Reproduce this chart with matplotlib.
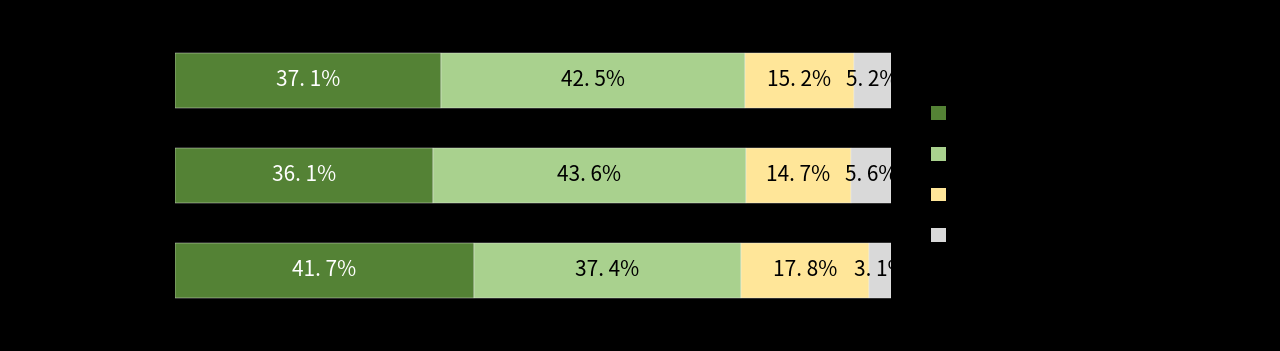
import matplotlib.pyplot as plt
from matplotlib.patches import Patch

plt.rcParams['font.family'] = ['Noto Sans CJK JP', 'DejaVu Sans']

# share of answers per row (top to bottom), four categories
rows = ['A', 'B', 'C']
cat1 = [37.1, 36.1, 41.7]
cat2 = [42.5, 43.6, 37.4]
cat3 = [15.2, 14.7, 17.8]
cat4 = [5.2, 5.6, 3.1]
colors = ['#548235', '#A9D18E', '#FFE699', '#D9D9D9']
text_colors = ['white', 'black', 'black', 'black']

fig = plt.figure(figsize=(12.8, 3.51), dpi=100, facecolor='black')
ax = fig.add_axes([0.1367, 0.0957, 0.5594, 0.81])
ax.set_facecolor('black')

series = [cat1, cat2, cat3, cat4]
ypos = list(range(len(rows)))
left = [0.0] * len(rows)
handles = []
for vals, c, tc in zip(series, colors, text_colors):
    ax.barh(ypos, vals, left=left, height=0.58, color=c, edgecolor='#f0f0f0', linewidth=0.3)
    for y, l, v in zip(ypos, left, vals):
        ax.text(l + v / 2, y, f'{v:.1f}%'.replace('.', '. '), ha='center', va='center',
                color=tc, fontsize=15, clip_on=True)
    left = [a + b for a, b in zip(left, vals)]
    handles.append(Patch(facecolor=c, edgecolor='none'))

ax.set_xlim(0, 100)
ax.set_ylim(len(rows) - 0.5, -0.5)
ax.axis('off')

fig.legend(handles, ['', '', '', ''], loc='upper left', bbox_to_anchor=(0.716, 0.741),
           frameon=False, handlelength=0.9, handleheight=0.9, labelspacing=1.42,
           fontsize=12)

fig.savefig('out.png', dpi=100, facecolor='black')
